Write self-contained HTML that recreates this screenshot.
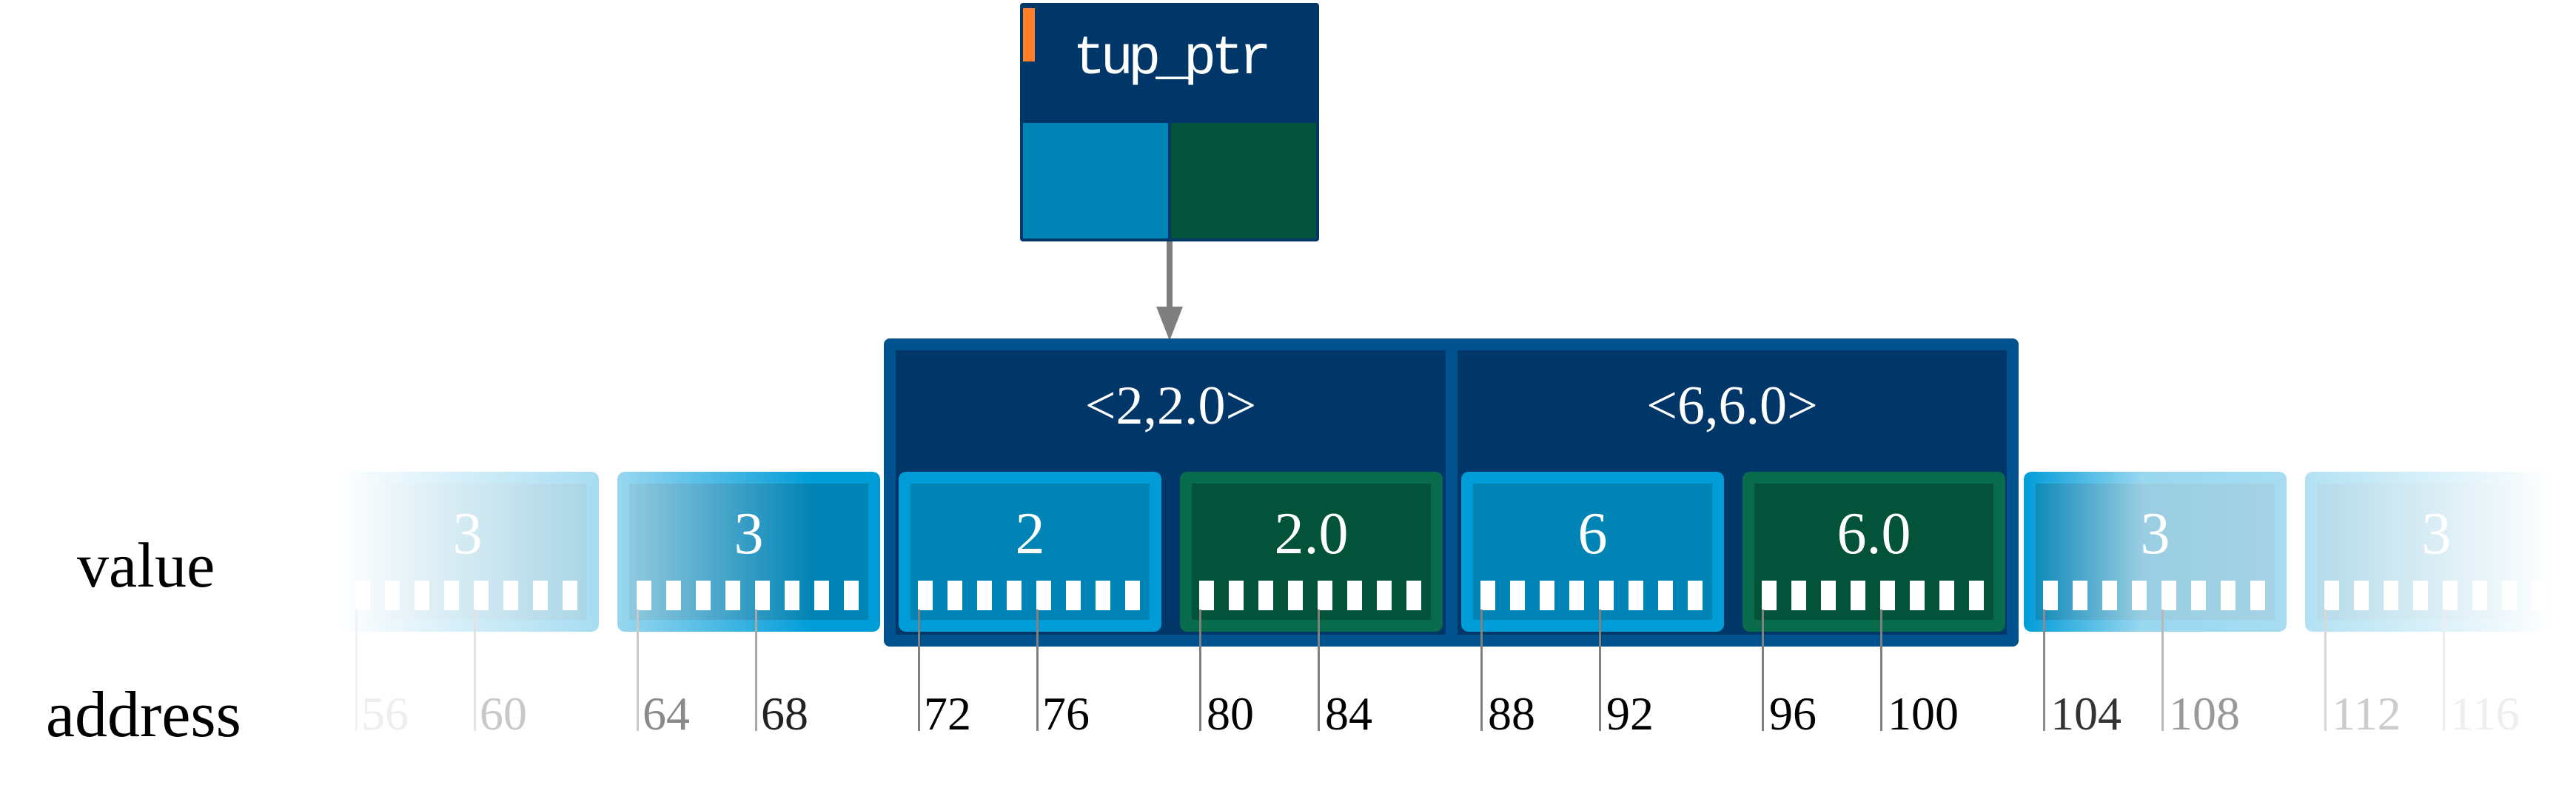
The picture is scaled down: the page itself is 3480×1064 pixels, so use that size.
<!DOCTYPE html>
<html><head><meta charset="utf-8"><style>
body{margin:0;width:3480px;height:1064px;background:#fff;position:relative;overflow:hidden;font-family:"Liberation Serif",serif}
div{position:absolute;box-sizing:border-box}
.cell{width:355px;height:216px;top:637px;border-radius:10px;border:16px solid #009cd8;background:#0083b5}
.g{border-color:#076b4c;background:#03523a}
.v{left:0;right:0;top:28px;text-align:center;color:#fff;font-size:80px;line-height:80px}
.bar{top:131px;width:20px;height:40px;background:#fff}
.tick{width:3px;top:823px;height:164px;background:#808080}
.lab{top:932px;font-size:64px;line-height:64px}
</style></head><body>
<!-- tup_ptr -->
<div style="left:1378px;top:4px;width:404px;height:322px;background:#003768;border-radius:4px"></div>
<div style="left:1382px;top:11px;width:16px;height:72px;background:#ff7f2a"></div>
<div style="left:1378px;top:40px;width:404px;text-align:center;color:#fff;font-family:'Liberation Mono',monospace;font-size:74px;line-height:80px;letter-spacing:-7px">tup_ptr</div>
<div style="left:1382px;top:166px;width:196px;height:156px;background:#0083b5"></div>
<div style="left:1582px;top:166px;width:196px;height:156px;background:#03523a"></div>
<!-- arrow -->
<div style="left:1576px;top:326px;width:8px;height:100px;background:#7f7f7f"></div>
<svg style="position:absolute;left:1560px;top:414px" width="40" height="50"><polygon points="2,0 38,0 20,46" fill="#7f7f7f"/></svg>
<!-- container -->
<div style="left:1194px;top:457px;width:1533px;height:416px;background:#00528f;border-radius:8px"></div>
<div style="left:1210px;top:473px;width:743px;height:384px;background:#003768"></div>
<div style="left:1969px;top:473px;width:742px;height:384px;background:#003768"></div>
<div style="left:1210px;top:510px;width:743px;text-align:center;color:#fff;font-size:74px;line-height:76px">&lt;2,2.0&gt;</div>
<div style="left:1969px;top:510px;width:742px;text-align:center;color:#fff;font-size:74px;line-height:76px">&lt;6,6.0&gt;</div>
<!-- labels -->
<div style="left:104px;top:720px;font-size:86px;line-height:86px;color:#000">value</div>
<div style="left:62px;top:922px;font-size:88px;line-height:88px;color:#000">address</div>

<div class="cell" style="left:454px;-webkit-mask-image:linear-gradient(90deg,rgba(0,0,0,0),rgba(0,0,0,.35))"><div class="v">3</div><div class="bar" style="left:10px"></div><div class="bar" style="left:50px"></div><div class="bar" style="left:90px"></div><div class="bar" style="left:130px"></div><div class="bar" style="left:170px"></div><div class="bar" style="left:210px"></div><div class="bar" style="left:250px"></div><div class="bar" style="left:290px"></div></div>
<div class="cell" style="left:834px;-webkit-mask-image:linear-gradient(90deg,rgba(0,0,0,.4),rgba(0,0,0,1) 75%)"><div class="v">3</div><div class="bar" style="left:10px"></div><div class="bar" style="left:50px"></div><div class="bar" style="left:90px"></div><div class="bar" style="left:130px"></div><div class="bar" style="left:170px"></div><div class="bar" style="left:210px"></div><div class="bar" style="left:250px"></div><div class="bar" style="left:290px"></div></div>
<div class="cell" style="left:1214px"><div class="v">2</div><div class="bar" style="left:10px"></div><div class="bar" style="left:50px"></div><div class="bar" style="left:90px"></div><div class="bar" style="left:130px"></div><div class="bar" style="left:170px"></div><div class="bar" style="left:210px"></div><div class="bar" style="left:250px"></div><div class="bar" style="left:290px"></div></div>
<div class="cell g" style="left:1594px"><div class="v">2.0</div><div class="bar" style="left:10px"></div><div class="bar" style="left:50px"></div><div class="bar" style="left:90px"></div><div class="bar" style="left:130px"></div><div class="bar" style="left:170px"></div><div class="bar" style="left:210px"></div><div class="bar" style="left:250px"></div><div class="bar" style="left:290px"></div></div>
<div class="cell" style="left:1974px"><div class="v">6</div><div class="bar" style="left:10px"></div><div class="bar" style="left:50px"></div><div class="bar" style="left:90px"></div><div class="bar" style="left:130px"></div><div class="bar" style="left:170px"></div><div class="bar" style="left:210px"></div><div class="bar" style="left:250px"></div><div class="bar" style="left:290px"></div></div>
<div class="cell g" style="left:2354px"><div class="v">6.0</div><div class="bar" style="left:10px"></div><div class="bar" style="left:50px"></div><div class="bar" style="left:90px"></div><div class="bar" style="left:130px"></div><div class="bar" style="left:170px"></div><div class="bar" style="left:210px"></div><div class="bar" style="left:250px"></div><div class="bar" style="left:290px"></div></div>
<div class="cell" style="left:2734px;-webkit-mask-image:linear-gradient(90deg,rgba(0,0,0,1),rgba(0,0,0,.4) 45%,rgba(0,0,0,.35))"><div class="v">3</div><div class="bar" style="left:10px"></div><div class="bar" style="left:50px"></div><div class="bar" style="left:90px"></div><div class="bar" style="left:130px"></div><div class="bar" style="left:170px"></div><div class="bar" style="left:210px"></div><div class="bar" style="left:250px"></div><div class="bar" style="left:290px"></div></div>
<div class="cell" style="left:3114px;-webkit-mask-image:linear-gradient(90deg,rgba(0,0,0,.3),rgba(0,0,0,0) 95%)"><div class="v">3</div><div class="bar" style="left:10px"></div><div class="bar" style="left:50px"></div><div class="bar" style="left:90px"></div><div class="bar" style="left:130px"></div><div class="bar" style="left:170px"></div><div class="bar" style="left:210px"></div><div class="bar" style="left:250px"></div><div class="bar" style="left:290px"></div></div>

<!-- ticks -->
<div class="tick" style="left:480px;background:#f2f2f2"></div><div class="lab" style="left:488px;color:#eee">56</div>
<div class="tick" style="left:640px;background:#e2e2e2"></div><div class="lab" style="left:648px;color:#c8c8c8">60</div>
<div class="tick" style="left:860px;background:#c8c8c8"></div><div class="lab" style="left:868px;color:#8a8a8a">64</div>
<div class="tick" style="left:1020px;background:#a8a8a8"></div><div class="lab" style="left:1028px;color:#222">68</div>
<div class="tick" style="left:1240px"></div><div class="lab" style="left:1248px">72</div>
<div class="tick" style="left:1400px"></div><div class="lab" style="left:1408px">76</div>
<div class="tick" style="left:1620px"></div><div class="lab" style="left:1630px">80</div>
<div class="tick" style="left:1780px"></div><div class="lab" style="left:1790px">84</div>
<div class="tick" style="left:2000px"></div><div class="lab" style="left:2010px">88</div>
<div class="tick" style="left:2160px"></div><div class="lab" style="left:2170px">92</div>
<div class="tick" style="left:2380px"></div><div class="lab" style="left:2390px">96</div>
<div class="tick" style="left:2540px"></div><div class="lab" style="left:2550px">100</div>
<div class="tick" style="left:2760px;background:#8c8c8c"></div><div class="lab" style="left:2770px;color:#333">104</div>
<div class="tick" style="left:2920px;background:#b8b8b8"></div><div class="lab" style="left:2930px;color:#999">108</div>
<div class="tick" style="left:3140px;background:#d8d8d8"></div><div class="lab" style="left:3150px;color:#ccc">112</div>
<div class="tick" style="left:3300px;background:#ececec"></div><div class="lab" style="left:3310px;color:#eee">116</div>
</body></html>
